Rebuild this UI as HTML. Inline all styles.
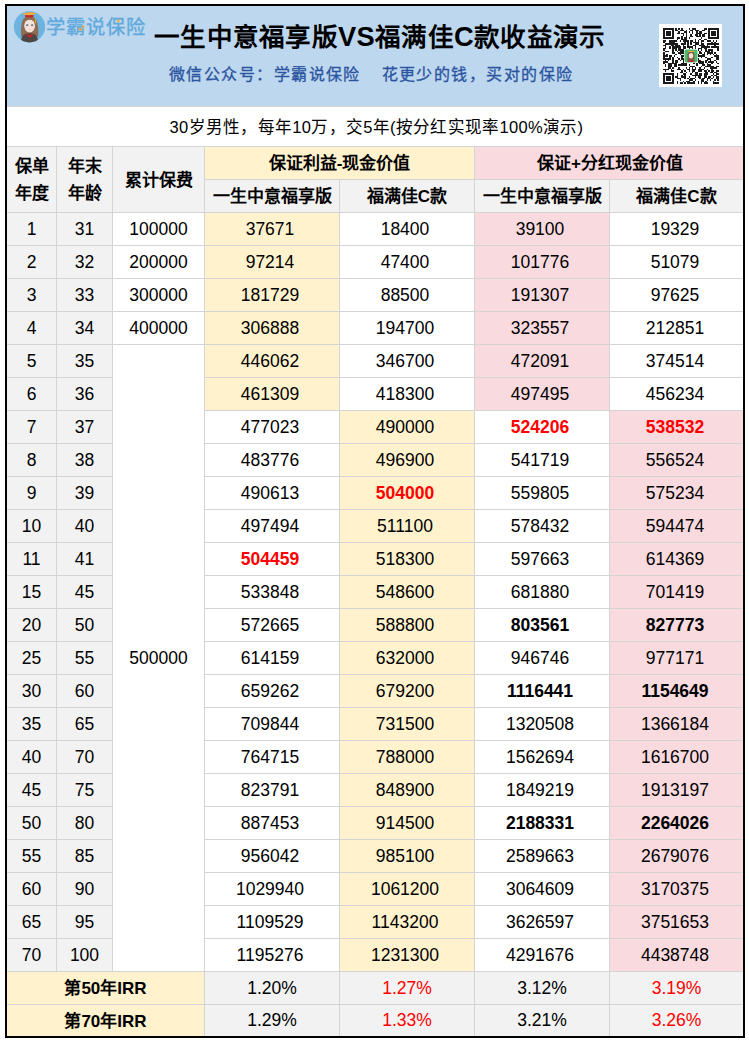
<!DOCTYPE html>
<html lang="zh-CN"><head><meta charset="utf-8"><style>
html,body{margin:0;padding:0}
body{width:749px;height:1047px;position:relative;overflow:hidden;background:#fff;font-family:"Liberation Sans",sans-serif;color:#000}
.c{position:absolute;box-sizing:border-box;display:flex;align-items:center;justify-content:center;text-align:center;white-space:nowrap}
.frame{position:absolute;left:5px;top:4px;width:740px;height:1034px;box-sizing:border-box;border:2px solid #000}
.d{font-size:17.5px}
.hb{font-size:17px;font-weight:bold;padding-bottom:3px}
.two{line-height:26.5px;padding-bottom:0;padding-top:2px}
.sub{font-size:16.5px;letter-spacing:0.3px;padding-bottom:2px;padding-left:3px}
.title{letter-spacing:0.3px}
.red{color:#ff0000;font-weight:bold}
.redn{color:#ff0000}
.bold{font-weight:bold}
.title{position:absolute;left:154px;top:17px;font-size:25.5px;font-weight:bold;white-space:nowrap;line-height:40px}
.title b{font-size:27.3px}
.wx{position:absolute;top:62.5px;font-size:16px;color:#2b54a0;white-space:nowrap;letter-spacing:1.45px;line-height:24px;-webkit-text-stroke:0.3px #2b54a0}
.logo{position:absolute;left:46px;top:14px;font-size:19.3px;letter-spacing:0.9px;color:#5fa9dd;white-space:nowrap;line-height:28px;-webkit-text-stroke:0.35px #5fa9dd}
.qrbg{position:absolute;left:659px;top:24px;width:63px;height:63px;background:#fff}
</style></head><body>
<div style="position:absolute;left:7px;top:6px;width:736px;height:100px;background:#bdd7ee;border-bottom:1px solid #d4d4d4"></div>
<div class="c sub" style="left:7px;top:107px;width:736px;height:40px;background:#fff;border-bottom:1px solid #d4d4d4;">30岁男性，每年10万，交5年(按分红实现率100%演示)</div>
<div class="c hb two" style="left:7px;top:147px;width:50px;height:66px;background:#f2f2f2;border-right:1px solid #d4d4d4;border-bottom:1px solid #d4d4d4;">保单<br>年度</div>
<div class="c hb two" style="left:57px;top:147px;width:56px;height:66px;background:#f2f2f2;border-right:1px solid #d4d4d4;border-bottom:1px solid #d4d4d4;">年末<br>年龄</div>
<div class="c hb" style="left:113px;top:147px;width:92px;height:66px;background:#f2f2f2;border-right:1px solid #d4d4d4;border-bottom:1px solid #d4d4d4;">累计保费</div>
<div class="c hb" style="left:205px;top:147px;width:270px;height:33px;background:#fff2cc;border-right:1px solid #d4d4d4;border-bottom:1px solid #d4d4d4;">保证利益-现金价值</div>
<div class="c hb" style="left:475px;top:147px;width:268px;height:33px;background:#f9dade;border-bottom:1px solid #d4d4d4;padding-left:2px;">保证+分红现金价值</div>
<div class="c hb" style="left:205px;top:180px;width:135px;height:33px;background:#f2f2f2;border-right:1px solid #d4d4d4;border-bottom:1px solid #d4d4d4;">一生中意福享版</div>
<div class="c hb" style="left:340px;top:180px;width:135px;height:33px;background:#f2f2f2;border-right:1px solid #d4d4d4;border-bottom:1px solid #d4d4d4;">福满佳C款</div>
<div class="c hb" style="left:475px;top:180px;width:135px;height:33px;background:#f2f2f2;border-right:1px solid #d4d4d4;border-bottom:1px solid #d4d4d4;">一生中意福享版</div>
<div class="c hb" style="left:610px;top:180px;width:133px;height:33px;background:#f2f2f2;border-bottom:1px solid #d4d4d4;">福满佳C款</div>
<div class="c d" style="left:7px;top:213px;width:50px;height:33px;background:#f2f2f2;border-right:1px solid #d4d4d4;border-bottom:1px solid #d4d4d4;">1</div>
<div class="c d" style="left:57px;top:213px;width:56px;height:33px;background:#f2f2f2;border-right:1px solid #d4d4d4;border-bottom:1px solid #d4d4d4;">31</div>
<div class="c d" style="left:113px;top:213px;width:92px;height:33px;background:#fff;border-right:1px solid #d4d4d4;border-bottom:1px solid #d4d4d4;">100000</div>
<div class="c d" style="left:205px;top:213px;width:135px;height:33px;background:#fff2cc;border-right:1px solid #d4d4d4;border-bottom:1px solid #d4d4d4;padding-right:4px;">37671</div>
<div class="c d" style="left:340px;top:213px;width:135px;height:33px;background:#fff;border-right:1px solid #d4d4d4;border-bottom:1px solid #d4d4d4;padding-right:4px;">18400</div>
<div class="c d" style="left:475px;top:213px;width:135px;height:33px;background:#f9dade;border-right:1px solid #d4d4d4;border-bottom:1px solid #d4d4d4;padding-right:4px;">39100</div>
<div class="c d" style="left:610px;top:213px;width:133px;height:33px;background:#fff;border-bottom:1px solid #d4d4d4;padding-right:3px;">19329</div>
<div class="c d" style="left:7px;top:246px;width:50px;height:33px;background:#f2f2f2;border-right:1px solid #d4d4d4;border-bottom:1px solid #d4d4d4;">2</div>
<div class="c d" style="left:57px;top:246px;width:56px;height:33px;background:#f2f2f2;border-right:1px solid #d4d4d4;border-bottom:1px solid #d4d4d4;">32</div>
<div class="c d" style="left:113px;top:246px;width:92px;height:33px;background:#fff;border-right:1px solid #d4d4d4;border-bottom:1px solid #d4d4d4;">200000</div>
<div class="c d" style="left:205px;top:246px;width:135px;height:33px;background:#fff2cc;border-right:1px solid #d4d4d4;border-bottom:1px solid #d4d4d4;padding-right:4px;">97214</div>
<div class="c d" style="left:340px;top:246px;width:135px;height:33px;background:#fff;border-right:1px solid #d4d4d4;border-bottom:1px solid #d4d4d4;padding-right:4px;">47400</div>
<div class="c d" style="left:475px;top:246px;width:135px;height:33px;background:#f9dade;border-right:1px solid #d4d4d4;border-bottom:1px solid #d4d4d4;padding-right:4px;">101776</div>
<div class="c d" style="left:610px;top:246px;width:133px;height:33px;background:#fff;border-bottom:1px solid #d4d4d4;padding-right:3px;">51079</div>
<div class="c d" style="left:7px;top:279px;width:50px;height:33px;background:#f2f2f2;border-right:1px solid #d4d4d4;border-bottom:1px solid #d4d4d4;">3</div>
<div class="c d" style="left:57px;top:279px;width:56px;height:33px;background:#f2f2f2;border-right:1px solid #d4d4d4;border-bottom:1px solid #d4d4d4;">33</div>
<div class="c d" style="left:113px;top:279px;width:92px;height:33px;background:#fff;border-right:1px solid #d4d4d4;border-bottom:1px solid #d4d4d4;">300000</div>
<div class="c d" style="left:205px;top:279px;width:135px;height:33px;background:#fff2cc;border-right:1px solid #d4d4d4;border-bottom:1px solid #d4d4d4;padding-right:4px;">181729</div>
<div class="c d" style="left:340px;top:279px;width:135px;height:33px;background:#fff;border-right:1px solid #d4d4d4;border-bottom:1px solid #d4d4d4;padding-right:4px;">88500</div>
<div class="c d" style="left:475px;top:279px;width:135px;height:33px;background:#f9dade;border-right:1px solid #d4d4d4;border-bottom:1px solid #d4d4d4;padding-right:4px;">191307</div>
<div class="c d" style="left:610px;top:279px;width:133px;height:33px;background:#fff;border-bottom:1px solid #d4d4d4;padding-right:3px;">97625</div>
<div class="c d" style="left:7px;top:312px;width:50px;height:33px;background:#f2f2f2;border-right:1px solid #d4d4d4;border-bottom:1px solid #d4d4d4;">4</div>
<div class="c d" style="left:57px;top:312px;width:56px;height:33px;background:#f2f2f2;border-right:1px solid #d4d4d4;border-bottom:1px solid #d4d4d4;">34</div>
<div class="c d" style="left:113px;top:312px;width:92px;height:33px;background:#fff;border-right:1px solid #d4d4d4;border-bottom:1px solid #d4d4d4;">400000</div>
<div class="c d" style="left:205px;top:312px;width:135px;height:33px;background:#fff2cc;border-right:1px solid #d4d4d4;border-bottom:1px solid #d4d4d4;padding-right:4px;">306888</div>
<div class="c d" style="left:340px;top:312px;width:135px;height:33px;background:#fff;border-right:1px solid #d4d4d4;border-bottom:1px solid #d4d4d4;padding-right:4px;">194700</div>
<div class="c d" style="left:475px;top:312px;width:135px;height:33px;background:#f9dade;border-right:1px solid #d4d4d4;border-bottom:1px solid #d4d4d4;padding-right:4px;">323557</div>
<div class="c d" style="left:610px;top:312px;width:133px;height:33px;background:#fff;border-bottom:1px solid #d4d4d4;padding-right:3px;">212851</div>
<div class="c d" style="left:7px;top:345px;width:50px;height:33px;background:#f2f2f2;border-right:1px solid #d4d4d4;border-bottom:1px solid #d4d4d4;">5</div>
<div class="c d" style="left:57px;top:345px;width:56px;height:33px;background:#f2f2f2;border-right:1px solid #d4d4d4;border-bottom:1px solid #d4d4d4;">35</div>
<div class="c d" style="left:113px;top:345px;width:92px;height:627px;background:#fff;border-right:1px solid #d4d4d4;border-bottom:1px solid #d4d4d4;">500000</div>
<div class="c d" style="left:205px;top:345px;width:135px;height:33px;background:#fff2cc;border-right:1px solid #d4d4d4;border-bottom:1px solid #d4d4d4;padding-right:4px;">446062</div>
<div class="c d" style="left:340px;top:345px;width:135px;height:33px;background:#fff;border-right:1px solid #d4d4d4;border-bottom:1px solid #d4d4d4;padding-right:4px;">346700</div>
<div class="c d" style="left:475px;top:345px;width:135px;height:33px;background:#f9dade;border-right:1px solid #d4d4d4;border-bottom:1px solid #d4d4d4;padding-right:4px;">472091</div>
<div class="c d" style="left:610px;top:345px;width:133px;height:33px;background:#fff;border-bottom:1px solid #d4d4d4;padding-right:3px;">374514</div>
<div class="c d" style="left:7px;top:378px;width:50px;height:33px;background:#f2f2f2;border-right:1px solid #d4d4d4;border-bottom:1px solid #d4d4d4;">6</div>
<div class="c d" style="left:57px;top:378px;width:56px;height:33px;background:#f2f2f2;border-right:1px solid #d4d4d4;border-bottom:1px solid #d4d4d4;">36</div>
<div class="c d" style="left:205px;top:378px;width:135px;height:33px;background:#fff2cc;border-right:1px solid #d4d4d4;border-bottom:1px solid #d4d4d4;padding-right:4px;">461309</div>
<div class="c d" style="left:340px;top:378px;width:135px;height:33px;background:#fff;border-right:1px solid #d4d4d4;border-bottom:1px solid #d4d4d4;padding-right:4px;">418300</div>
<div class="c d" style="left:475px;top:378px;width:135px;height:33px;background:#f9dade;border-right:1px solid #d4d4d4;border-bottom:1px solid #d4d4d4;padding-right:4px;">497495</div>
<div class="c d" style="left:610px;top:378px;width:133px;height:33px;background:#fff;border-bottom:1px solid #d4d4d4;padding-right:3px;">456234</div>
<div class="c d" style="left:7px;top:411px;width:50px;height:33px;background:#f2f2f2;border-right:1px solid #d4d4d4;border-bottom:1px solid #d4d4d4;">7</div>
<div class="c d" style="left:57px;top:411px;width:56px;height:33px;background:#f2f2f2;border-right:1px solid #d4d4d4;border-bottom:1px solid #d4d4d4;">37</div>
<div class="c d" style="left:205px;top:411px;width:135px;height:33px;background:#fff;border-right:1px solid #d4d4d4;border-bottom:1px solid #d4d4d4;padding-right:4px;">477023</div>
<div class="c d" style="left:340px;top:411px;width:135px;height:33px;background:#fff2cc;border-right:1px solid #d4d4d4;border-bottom:1px solid #d4d4d4;padding-right:4px;">490000</div>
<div class="c d red" style="left:475px;top:411px;width:135px;height:33px;background:#fff;border-right:1px solid #d4d4d4;border-bottom:1px solid #d4d4d4;padding-right:4px;">524206</div>
<div class="c d red" style="left:610px;top:411px;width:133px;height:33px;background:#f9dade;border-bottom:1px solid #d4d4d4;padding-right:3px;">538532</div>
<div class="c d" style="left:7px;top:444px;width:50px;height:33px;background:#f2f2f2;border-right:1px solid #d4d4d4;border-bottom:1px solid #d4d4d4;">8</div>
<div class="c d" style="left:57px;top:444px;width:56px;height:33px;background:#f2f2f2;border-right:1px solid #d4d4d4;border-bottom:1px solid #d4d4d4;">38</div>
<div class="c d" style="left:205px;top:444px;width:135px;height:33px;background:#fff;border-right:1px solid #d4d4d4;border-bottom:1px solid #d4d4d4;padding-right:4px;">483776</div>
<div class="c d" style="left:340px;top:444px;width:135px;height:33px;background:#fff2cc;border-right:1px solid #d4d4d4;border-bottom:1px solid #d4d4d4;padding-right:4px;">496900</div>
<div class="c d" style="left:475px;top:444px;width:135px;height:33px;background:#fff;border-right:1px solid #d4d4d4;border-bottom:1px solid #d4d4d4;padding-right:4px;">541719</div>
<div class="c d" style="left:610px;top:444px;width:133px;height:33px;background:#f9dade;border-bottom:1px solid #d4d4d4;padding-right:3px;">556524</div>
<div class="c d" style="left:7px;top:477px;width:50px;height:33px;background:#f2f2f2;border-right:1px solid #d4d4d4;border-bottom:1px solid #d4d4d4;">9</div>
<div class="c d" style="left:57px;top:477px;width:56px;height:33px;background:#f2f2f2;border-right:1px solid #d4d4d4;border-bottom:1px solid #d4d4d4;">39</div>
<div class="c d" style="left:205px;top:477px;width:135px;height:33px;background:#fff;border-right:1px solid #d4d4d4;border-bottom:1px solid #d4d4d4;padding-right:4px;">490613</div>
<div class="c d red" style="left:340px;top:477px;width:135px;height:33px;background:#fff2cc;border-right:1px solid #d4d4d4;border-bottom:1px solid #d4d4d4;padding-right:4px;">504000</div>
<div class="c d" style="left:475px;top:477px;width:135px;height:33px;background:#fff;border-right:1px solid #d4d4d4;border-bottom:1px solid #d4d4d4;padding-right:4px;">559805</div>
<div class="c d" style="left:610px;top:477px;width:133px;height:33px;background:#f9dade;border-bottom:1px solid #d4d4d4;padding-right:3px;">575234</div>
<div class="c d" style="left:7px;top:510px;width:50px;height:33px;background:#f2f2f2;border-right:1px solid #d4d4d4;border-bottom:1px solid #d4d4d4;">10</div>
<div class="c d" style="left:57px;top:510px;width:56px;height:33px;background:#f2f2f2;border-right:1px solid #d4d4d4;border-bottom:1px solid #d4d4d4;">40</div>
<div class="c d" style="left:205px;top:510px;width:135px;height:33px;background:#fff;border-right:1px solid #d4d4d4;border-bottom:1px solid #d4d4d4;padding-right:4px;">497494</div>
<div class="c d" style="left:340px;top:510px;width:135px;height:33px;background:#fff2cc;border-right:1px solid #d4d4d4;border-bottom:1px solid #d4d4d4;padding-right:4px;">511100</div>
<div class="c d" style="left:475px;top:510px;width:135px;height:33px;background:#fff;border-right:1px solid #d4d4d4;border-bottom:1px solid #d4d4d4;padding-right:4px;">578432</div>
<div class="c d" style="left:610px;top:510px;width:133px;height:33px;background:#f9dade;border-bottom:1px solid #d4d4d4;padding-right:3px;">594474</div>
<div class="c d" style="left:7px;top:543px;width:50px;height:33px;background:#f2f2f2;border-right:1px solid #d4d4d4;border-bottom:1px solid #d4d4d4;">11</div>
<div class="c d" style="left:57px;top:543px;width:56px;height:33px;background:#f2f2f2;border-right:1px solid #d4d4d4;border-bottom:1px solid #d4d4d4;">41</div>
<div class="c d red" style="left:205px;top:543px;width:135px;height:33px;background:#fff;border-right:1px solid #d4d4d4;border-bottom:1px solid #d4d4d4;padding-right:4px;">504459</div>
<div class="c d" style="left:340px;top:543px;width:135px;height:33px;background:#fff2cc;border-right:1px solid #d4d4d4;border-bottom:1px solid #d4d4d4;padding-right:4px;">518300</div>
<div class="c d" style="left:475px;top:543px;width:135px;height:33px;background:#fff;border-right:1px solid #d4d4d4;border-bottom:1px solid #d4d4d4;padding-right:4px;">597663</div>
<div class="c d" style="left:610px;top:543px;width:133px;height:33px;background:#f9dade;border-bottom:1px solid #d4d4d4;padding-right:3px;">614369</div>
<div class="c d" style="left:7px;top:576px;width:50px;height:33px;background:#f2f2f2;border-right:1px solid #d4d4d4;border-bottom:1px solid #d4d4d4;">15</div>
<div class="c d" style="left:57px;top:576px;width:56px;height:33px;background:#f2f2f2;border-right:1px solid #d4d4d4;border-bottom:1px solid #d4d4d4;">45</div>
<div class="c d" style="left:205px;top:576px;width:135px;height:33px;background:#fff;border-right:1px solid #d4d4d4;border-bottom:1px solid #d4d4d4;padding-right:4px;">533848</div>
<div class="c d" style="left:340px;top:576px;width:135px;height:33px;background:#fff2cc;border-right:1px solid #d4d4d4;border-bottom:1px solid #d4d4d4;padding-right:4px;">548600</div>
<div class="c d" style="left:475px;top:576px;width:135px;height:33px;background:#fff;border-right:1px solid #d4d4d4;border-bottom:1px solid #d4d4d4;padding-right:4px;">681880</div>
<div class="c d" style="left:610px;top:576px;width:133px;height:33px;background:#f9dade;border-bottom:1px solid #d4d4d4;padding-right:3px;">701419</div>
<div class="c d" style="left:7px;top:609px;width:50px;height:33px;background:#f2f2f2;border-right:1px solid #d4d4d4;border-bottom:1px solid #d4d4d4;">20</div>
<div class="c d" style="left:57px;top:609px;width:56px;height:33px;background:#f2f2f2;border-right:1px solid #d4d4d4;border-bottom:1px solid #d4d4d4;">50</div>
<div class="c d" style="left:205px;top:609px;width:135px;height:33px;background:#fff;border-right:1px solid #d4d4d4;border-bottom:1px solid #d4d4d4;padding-right:4px;">572665</div>
<div class="c d" style="left:340px;top:609px;width:135px;height:33px;background:#fff2cc;border-right:1px solid #d4d4d4;border-bottom:1px solid #d4d4d4;padding-right:4px;">588800</div>
<div class="c d bold" style="left:475px;top:609px;width:135px;height:33px;background:#fff;border-right:1px solid #d4d4d4;border-bottom:1px solid #d4d4d4;padding-right:4px;">803561</div>
<div class="c d bold" style="left:610px;top:609px;width:133px;height:33px;background:#f9dade;border-bottom:1px solid #d4d4d4;padding-right:3px;">827773</div>
<div class="c d" style="left:7px;top:642px;width:50px;height:33px;background:#f2f2f2;border-right:1px solid #d4d4d4;border-bottom:1px solid #d4d4d4;">25</div>
<div class="c d" style="left:57px;top:642px;width:56px;height:33px;background:#f2f2f2;border-right:1px solid #d4d4d4;border-bottom:1px solid #d4d4d4;">55</div>
<div class="c d" style="left:205px;top:642px;width:135px;height:33px;background:#fff;border-right:1px solid #d4d4d4;border-bottom:1px solid #d4d4d4;padding-right:4px;">614159</div>
<div class="c d" style="left:340px;top:642px;width:135px;height:33px;background:#fff2cc;border-right:1px solid #d4d4d4;border-bottom:1px solid #d4d4d4;padding-right:4px;">632000</div>
<div class="c d" style="left:475px;top:642px;width:135px;height:33px;background:#fff;border-right:1px solid #d4d4d4;border-bottom:1px solid #d4d4d4;padding-right:4px;">946746</div>
<div class="c d" style="left:610px;top:642px;width:133px;height:33px;background:#f9dade;border-bottom:1px solid #d4d4d4;padding-right:3px;">977171</div>
<div class="c d" style="left:7px;top:675px;width:50px;height:33px;background:#f2f2f2;border-right:1px solid #d4d4d4;border-bottom:1px solid #d4d4d4;">30</div>
<div class="c d" style="left:57px;top:675px;width:56px;height:33px;background:#f2f2f2;border-right:1px solid #d4d4d4;border-bottom:1px solid #d4d4d4;">60</div>
<div class="c d" style="left:205px;top:675px;width:135px;height:33px;background:#fff;border-right:1px solid #d4d4d4;border-bottom:1px solid #d4d4d4;padding-right:4px;">659262</div>
<div class="c d" style="left:340px;top:675px;width:135px;height:33px;background:#fff2cc;border-right:1px solid #d4d4d4;border-bottom:1px solid #d4d4d4;padding-right:4px;">679200</div>
<div class="c d bold" style="left:475px;top:675px;width:135px;height:33px;background:#fff;border-right:1px solid #d4d4d4;border-bottom:1px solid #d4d4d4;padding-right:4px;">1116441</div>
<div class="c d bold" style="left:610px;top:675px;width:133px;height:33px;background:#f9dade;border-bottom:1px solid #d4d4d4;padding-right:3px;">1154649</div>
<div class="c d" style="left:7px;top:708px;width:50px;height:33px;background:#f2f2f2;border-right:1px solid #d4d4d4;border-bottom:1px solid #d4d4d4;">35</div>
<div class="c d" style="left:57px;top:708px;width:56px;height:33px;background:#f2f2f2;border-right:1px solid #d4d4d4;border-bottom:1px solid #d4d4d4;">65</div>
<div class="c d" style="left:205px;top:708px;width:135px;height:33px;background:#fff;border-right:1px solid #d4d4d4;border-bottom:1px solid #d4d4d4;padding-right:4px;">709844</div>
<div class="c d" style="left:340px;top:708px;width:135px;height:33px;background:#fff2cc;border-right:1px solid #d4d4d4;border-bottom:1px solid #d4d4d4;padding-right:4px;">731500</div>
<div class="c d" style="left:475px;top:708px;width:135px;height:33px;background:#fff;border-right:1px solid #d4d4d4;border-bottom:1px solid #d4d4d4;padding-right:4px;">1320508</div>
<div class="c d" style="left:610px;top:708px;width:133px;height:33px;background:#f9dade;border-bottom:1px solid #d4d4d4;padding-right:3px;">1366184</div>
<div class="c d" style="left:7px;top:741px;width:50px;height:33px;background:#f2f2f2;border-right:1px solid #d4d4d4;border-bottom:1px solid #d4d4d4;">40</div>
<div class="c d" style="left:57px;top:741px;width:56px;height:33px;background:#f2f2f2;border-right:1px solid #d4d4d4;border-bottom:1px solid #d4d4d4;">70</div>
<div class="c d" style="left:205px;top:741px;width:135px;height:33px;background:#fff;border-right:1px solid #d4d4d4;border-bottom:1px solid #d4d4d4;padding-right:4px;">764715</div>
<div class="c d" style="left:340px;top:741px;width:135px;height:33px;background:#fff2cc;border-right:1px solid #d4d4d4;border-bottom:1px solid #d4d4d4;padding-right:4px;">788000</div>
<div class="c d" style="left:475px;top:741px;width:135px;height:33px;background:#fff;border-right:1px solid #d4d4d4;border-bottom:1px solid #d4d4d4;padding-right:4px;">1562694</div>
<div class="c d" style="left:610px;top:741px;width:133px;height:33px;background:#f9dade;border-bottom:1px solid #d4d4d4;padding-right:3px;">1616700</div>
<div class="c d" style="left:7px;top:774px;width:50px;height:33px;background:#f2f2f2;border-right:1px solid #d4d4d4;border-bottom:1px solid #d4d4d4;">45</div>
<div class="c d" style="left:57px;top:774px;width:56px;height:33px;background:#f2f2f2;border-right:1px solid #d4d4d4;border-bottom:1px solid #d4d4d4;">75</div>
<div class="c d" style="left:205px;top:774px;width:135px;height:33px;background:#fff;border-right:1px solid #d4d4d4;border-bottom:1px solid #d4d4d4;padding-right:4px;">823791</div>
<div class="c d" style="left:340px;top:774px;width:135px;height:33px;background:#fff2cc;border-right:1px solid #d4d4d4;border-bottom:1px solid #d4d4d4;padding-right:4px;">848900</div>
<div class="c d" style="left:475px;top:774px;width:135px;height:33px;background:#fff;border-right:1px solid #d4d4d4;border-bottom:1px solid #d4d4d4;padding-right:4px;">1849219</div>
<div class="c d" style="left:610px;top:774px;width:133px;height:33px;background:#f9dade;border-bottom:1px solid #d4d4d4;padding-right:3px;">1913197</div>
<div class="c d" style="left:7px;top:807px;width:50px;height:33px;background:#f2f2f2;border-right:1px solid #d4d4d4;border-bottom:1px solid #d4d4d4;">50</div>
<div class="c d" style="left:57px;top:807px;width:56px;height:33px;background:#f2f2f2;border-right:1px solid #d4d4d4;border-bottom:1px solid #d4d4d4;">80</div>
<div class="c d" style="left:205px;top:807px;width:135px;height:33px;background:#fff;border-right:1px solid #d4d4d4;border-bottom:1px solid #d4d4d4;padding-right:4px;">887453</div>
<div class="c d" style="left:340px;top:807px;width:135px;height:33px;background:#fff2cc;border-right:1px solid #d4d4d4;border-bottom:1px solid #d4d4d4;padding-right:4px;">914500</div>
<div class="c d bold" style="left:475px;top:807px;width:135px;height:33px;background:#fff;border-right:1px solid #d4d4d4;border-bottom:1px solid #d4d4d4;padding-right:4px;">2188331</div>
<div class="c d bold" style="left:610px;top:807px;width:133px;height:33px;background:#f9dade;border-bottom:1px solid #d4d4d4;padding-right:3px;">2264026</div>
<div class="c d" style="left:7px;top:840px;width:50px;height:33px;background:#f2f2f2;border-right:1px solid #d4d4d4;border-bottom:1px solid #d4d4d4;">55</div>
<div class="c d" style="left:57px;top:840px;width:56px;height:33px;background:#f2f2f2;border-right:1px solid #d4d4d4;border-bottom:1px solid #d4d4d4;">85</div>
<div class="c d" style="left:205px;top:840px;width:135px;height:33px;background:#fff;border-right:1px solid #d4d4d4;border-bottom:1px solid #d4d4d4;padding-right:4px;">956042</div>
<div class="c d" style="left:340px;top:840px;width:135px;height:33px;background:#fff2cc;border-right:1px solid #d4d4d4;border-bottom:1px solid #d4d4d4;padding-right:4px;">985100</div>
<div class="c d" style="left:475px;top:840px;width:135px;height:33px;background:#fff;border-right:1px solid #d4d4d4;border-bottom:1px solid #d4d4d4;padding-right:4px;">2589663</div>
<div class="c d" style="left:610px;top:840px;width:133px;height:33px;background:#f9dade;border-bottom:1px solid #d4d4d4;padding-right:3px;">2679076</div>
<div class="c d" style="left:7px;top:873px;width:50px;height:33px;background:#f2f2f2;border-right:1px solid #d4d4d4;border-bottom:1px solid #d4d4d4;">60</div>
<div class="c d" style="left:57px;top:873px;width:56px;height:33px;background:#f2f2f2;border-right:1px solid #d4d4d4;border-bottom:1px solid #d4d4d4;">90</div>
<div class="c d" style="left:205px;top:873px;width:135px;height:33px;background:#fff;border-right:1px solid #d4d4d4;border-bottom:1px solid #d4d4d4;padding-right:4px;">1029940</div>
<div class="c d" style="left:340px;top:873px;width:135px;height:33px;background:#fff2cc;border-right:1px solid #d4d4d4;border-bottom:1px solid #d4d4d4;padding-right:4px;">1061200</div>
<div class="c d" style="left:475px;top:873px;width:135px;height:33px;background:#fff;border-right:1px solid #d4d4d4;border-bottom:1px solid #d4d4d4;padding-right:4px;">3064609</div>
<div class="c d" style="left:610px;top:873px;width:133px;height:33px;background:#f9dade;border-bottom:1px solid #d4d4d4;padding-right:3px;">3170375</div>
<div class="c d" style="left:7px;top:906px;width:50px;height:33px;background:#f2f2f2;border-right:1px solid #d4d4d4;border-bottom:1px solid #d4d4d4;">65</div>
<div class="c d" style="left:57px;top:906px;width:56px;height:33px;background:#f2f2f2;border-right:1px solid #d4d4d4;border-bottom:1px solid #d4d4d4;">95</div>
<div class="c d" style="left:205px;top:906px;width:135px;height:33px;background:#fff;border-right:1px solid #d4d4d4;border-bottom:1px solid #d4d4d4;padding-right:4px;">1109529</div>
<div class="c d" style="left:340px;top:906px;width:135px;height:33px;background:#fff2cc;border-right:1px solid #d4d4d4;border-bottom:1px solid #d4d4d4;padding-right:4px;">1143200</div>
<div class="c d" style="left:475px;top:906px;width:135px;height:33px;background:#fff;border-right:1px solid #d4d4d4;border-bottom:1px solid #d4d4d4;padding-right:4px;">3626597</div>
<div class="c d" style="left:610px;top:906px;width:133px;height:33px;background:#f9dade;border-bottom:1px solid #d4d4d4;padding-right:3px;">3751653</div>
<div class="c d" style="left:7px;top:939px;width:50px;height:33px;background:#f2f2f2;border-right:1px solid #d4d4d4;border-bottom:1px solid #d4d4d4;">70</div>
<div class="c d" style="left:57px;top:939px;width:56px;height:33px;background:#f2f2f2;border-right:1px solid #d4d4d4;border-bottom:1px solid #d4d4d4;">100</div>
<div class="c d" style="left:205px;top:939px;width:135px;height:33px;background:#fff;border-right:1px solid #d4d4d4;border-bottom:1px solid #d4d4d4;padding-right:4px;">1195276</div>
<div class="c d" style="left:340px;top:939px;width:135px;height:33px;background:#fff2cc;border-right:1px solid #d4d4d4;border-bottom:1px solid #d4d4d4;padding-right:4px;">1231300</div>
<div class="c d" style="left:475px;top:939px;width:135px;height:33px;background:#fff;border-right:1px solid #d4d4d4;border-bottom:1px solid #d4d4d4;padding-right:4px;">4291676</div>
<div class="c d" style="left:610px;top:939px;width:133px;height:33px;background:#f9dade;border-bottom:1px solid #d4d4d4;padding-right:3px;">4438748</div>
<div class="c hb" style="left:7px;top:972px;width:198px;height:33px;background:#fff2cc;border-right:1px solid #d4d4d4;border-bottom:1px solid #d4d4d4;">第50年IRR</div>
<div class="c d" style="left:205px;top:972px;width:135px;height:33px;background:#f2f2f2;border-right:1px solid #d4d4d4;border-bottom:1px solid #d4d4d4;">1.20%</div>
<div class="c d redn" style="left:340px;top:972px;width:135px;height:33px;background:#f2f2f2;border-right:1px solid #d4d4d4;border-bottom:1px solid #d4d4d4;">1.27%</div>
<div class="c d" style="left:475px;top:972px;width:135px;height:33px;background:#f2f2f2;border-right:1px solid #d4d4d4;border-bottom:1px solid #d4d4d4;">3.12%</div>
<div class="c d redn" style="left:610px;top:972px;width:133px;height:33px;background:#f2f2f2;border-bottom:1px solid #d4d4d4;">3.19%</div>
<div class="c hb" style="left:7px;top:1005px;width:198px;height:31px;background:#fff2cc;border-right:1px solid #d4d4d4;">第70年IRR</div>
<div class="c d" style="left:205px;top:1005px;width:135px;height:31px;background:#f2f2f2;border-right:1px solid #d4d4d4;">1.29%</div>
<div class="c d redn" style="left:340px;top:1005px;width:135px;height:31px;background:#f2f2f2;border-right:1px solid #d4d4d4;">1.33%</div>
<div class="c d" style="left:475px;top:1005px;width:135px;height:31px;background:#f2f2f2;border-right:1px solid #d4d4d4;">3.21%</div>
<div class="c d redn" style="left:610px;top:1005px;width:133px;height:31px;background:#f2f2f2;">3.26%</div>
<div class="title">一生中意福享版<b>VS</b>福满佳<b>C</b>款收益演示</div>
<div class="wx" style="left:169px">微信公众号：学霸说保险</div><div class="wx" style="left:381.5px">花更少的钱，买对的保险</div>
<div class="logo">学霸说保险</div><svg style="position:absolute;left:0;top:0" width="160" height="45"><path d="M78.5 28.5 L80.5 30.3 L84.2 25.4" stroke="#f0ac3a" stroke-width="1.3" fill="none"/><path d="M116.8 20 L118.2 21.8 L120 19.4" stroke="#f0ac3a" stroke-width="1.1" fill="none"/></svg>
<svg style="position:absolute;left:0;top:0" width="60" height="50" viewBox="0 0 60 50">
<defs><clipPath id="cc"><circle cx="29.5" cy="26.8" r="15.6"/></clipPath></defs>
<circle cx="29.5" cy="26.8" r="15.6" fill="#6cb3e0"/>
<g clip-path="url(#cc)">
<path d="M21.2 36 Q20.5 28 22 22 Q23.5 16.5 29.5 16.3 Q35.5 16.5 37.2 22 Q38.8 28 38.2 36 Q37 38 35 37.5 L24 37.5 Q22 38 21.2 36 Z" fill="#8d6e55"/>
<path d="M21 43 Q21 35.5 25 34 L29.5 33 L34 34 Q38 35.5 38 43 Z" fill="#4d4745"/>
<path d="M25 33.8 L29.5 38.5 L34 33.8 L29.5 34.8 Z" fill="#b62a2c"/>
<ellipse cx="29.6" cy="25.8" rx="5.4" ry="6.6" fill="#f5e3d9"/>
<path d="M24 22 Q27 18.5 29.6 18.6 Q33 18.6 35.4 22.5 Q34 20 29.6 19.8 Q26 20 24 22 Z" fill="#8d6e55"/>
<ellipse cx="27.2" cy="25.1" rx="1.15" ry="0.9" fill="#56627a"/><ellipse cx="32.1" cy="25.1" rx="1.15" ry="0.9" fill="#56627a"/><ellipse cx="25.8" cy="27.4" rx="1" ry="0.7" fill="#f3d3cf"/><ellipse cx="33.5" cy="27.4" rx="1" ry="0.7" fill="#f3d3cf"/>
<path d="M28.9 29.4 Q29.6 29.9 30.3 29.4" stroke="#e3a0a0" stroke-width="0.6" fill="none"/>
<rect x="25.2" y="15" width="8.2" height="2.4" fill="#c0282a"/>
<path d="M22 13.8 Q29.5 10.8 36.4 13.4 L34 14.6 Q29.5 15.6 24.5 14.8 Z" fill="#f4ab38"/>
<path d="M35.3 18.8 L35.5 23.3" stroke="#f4ab38" stroke-width="1"/>
</g>
</svg>
<div class="qrbg"></div>
<svg style="position:absolute;left:663px;top:28px" width="55.5" height="55.5" viewBox="0 0 37 37" shape-rendering="crispEdges"><g fill="#1a1a1a"><rect x="0" y="0" width="1" height="1"/><rect x="0" y="1" width="1" height="1"/><rect x="0" y="2" width="1" height="1"/><rect x="0" y="3" width="1" height="1"/><rect x="0" y="4" width="1" height="1"/><rect x="0" y="5" width="1" height="1"/><rect x="0" y="6" width="1" height="1"/><rect x="0" y="8" width="1" height="1"/><rect x="0" y="9" width="1" height="1"/><rect x="0" y="11" width="1" height="1"/><rect x="0" y="13" width="1" height="1"/><rect x="0" y="14" width="1" height="1"/><rect x="0" y="16" width="1" height="1"/><rect x="0" y="17" width="1" height="1"/><rect x="0" y="18" width="1" height="1"/><rect x="0" y="19" width="1" height="1"/><rect x="0" y="20" width="1" height="1"/><rect x="0" y="22" width="1" height="1"/><rect x="0" y="23" width="1" height="1"/><rect x="0" y="27" width="1" height="1"/><rect x="0" y="30" width="1" height="1"/><rect x="0" y="31" width="1" height="1"/><rect x="0" y="32" width="1" height="1"/><rect x="0" y="33" width="1" height="1"/><rect x="0" y="34" width="1" height="1"/><rect x="0" y="35" width="1" height="1"/><rect x="0" y="36" width="1" height="1"/><rect x="1" y="0" width="1" height="1"/><rect x="1" y="6" width="1" height="1"/><rect x="1" y="8" width="1" height="1"/><rect x="1" y="10" width="1" height="1"/><rect x="1" y="11" width="1" height="1"/><rect x="1" y="12" width="1" height="1"/><rect x="1" y="13" width="1" height="1"/><rect x="1" y="15" width="1" height="1"/><rect x="1" y="18" width="1" height="1"/><rect x="1" y="20" width="1" height="1"/><rect x="1" y="21" width="1" height="1"/><rect x="1" y="22" width="1" height="1"/><rect x="1" y="24" width="1" height="1"/><rect x="1" y="25" width="1" height="1"/><rect x="1" y="27" width="1" height="1"/><rect x="1" y="28" width="1" height="1"/><rect x="1" y="30" width="1" height="1"/><rect x="1" y="36" width="1" height="1"/><rect x="2" y="0" width="1" height="1"/><rect x="2" y="2" width="1" height="1"/><rect x="2" y="3" width="1" height="1"/><rect x="2" y="4" width="1" height="1"/><rect x="2" y="6" width="1" height="1"/><rect x="2" y="10" width="1" height="1"/><rect x="2" y="15" width="1" height="1"/><rect x="2" y="17" width="1" height="1"/><rect x="2" y="18" width="1" height="1"/><rect x="2" y="20" width="1" height="1"/><rect x="2" y="22" width="1" height="1"/><rect x="2" y="27" width="1" height="1"/><rect x="2" y="30" width="1" height="1"/><rect x="2" y="32" width="1" height="1"/><rect x="2" y="33" width="1" height="1"/><rect x="2" y="34" width="1" height="1"/><rect x="2" y="36" width="1" height="1"/><rect x="3" y="0" width="1" height="1"/><rect x="3" y="2" width="1" height="1"/><rect x="3" y="3" width="1" height="1"/><rect x="3" y="4" width="1" height="1"/><rect x="3" y="6" width="1" height="1"/><rect x="3" y="10" width="1" height="1"/><rect x="3" y="15" width="1" height="1"/><rect x="3" y="20" width="1" height="1"/><rect x="3" y="21" width="1" height="1"/><rect x="3" y="23" width="1" height="1"/><rect x="3" y="24" width="1" height="1"/><rect x="3" y="25" width="1" height="1"/><rect x="3" y="26" width="1" height="1"/><rect x="3" y="27" width="1" height="1"/><rect x="3" y="30" width="1" height="1"/><rect x="3" y="32" width="1" height="1"/><rect x="3" y="33" width="1" height="1"/><rect x="3" y="34" width="1" height="1"/><rect x="3" y="36" width="1" height="1"/><rect x="4" y="0" width="1" height="1"/><rect x="4" y="2" width="1" height="1"/><rect x="4" y="3" width="1" height="1"/><rect x="4" y="4" width="1" height="1"/><rect x="4" y="6" width="1" height="1"/><rect x="4" y="8" width="1" height="1"/><rect x="4" y="9" width="1" height="1"/><rect x="4" y="10" width="1" height="1"/><rect x="4" y="12" width="1" height="1"/><rect x="4" y="13" width="1" height="1"/><rect x="4" y="18" width="1" height="1"/><rect x="4" y="19" width="1" height="1"/><rect x="4" y="20" width="1" height="1"/><rect x="4" y="23" width="1" height="1"/><rect x="4" y="24" width="1" height="1"/><rect x="4" y="25" width="1" height="1"/><rect x="4" y="26" width="1" height="1"/><rect x="4" y="30" width="1" height="1"/><rect x="4" y="32" width="1" height="1"/><rect x="4" y="33" width="1" height="1"/><rect x="4" y="34" width="1" height="1"/><rect x="4" y="36" width="1" height="1"/><rect x="5" y="0" width="1" height="1"/><rect x="5" y="6" width="1" height="1"/><rect x="5" y="8" width="1" height="1"/><rect x="5" y="9" width="1" height="1"/><rect x="5" y="10" width="1" height="1"/><rect x="5" y="11" width="1" height="1"/><rect x="5" y="18" width="1" height="1"/><rect x="5" y="23" width="1" height="1"/><rect x="5" y="24" width="1" height="1"/><rect x="5" y="25" width="1" height="1"/><rect x="5" y="27" width="1" height="1"/><rect x="5" y="28" width="1" height="1"/><rect x="5" y="30" width="1" height="1"/><rect x="5" y="36" width="1" height="1"/><rect x="6" y="0" width="1" height="1"/><rect x="6" y="1" width="1" height="1"/><rect x="6" y="2" width="1" height="1"/><rect x="6" y="3" width="1" height="1"/><rect x="6" y="4" width="1" height="1"/><rect x="6" y="5" width="1" height="1"/><rect x="6" y="6" width="1" height="1"/><rect x="6" y="8" width="1" height="1"/><rect x="6" y="9" width="1" height="1"/><rect x="6" y="10" width="1" height="1"/><rect x="6" y="11" width="1" height="1"/><rect x="6" y="12" width="1" height="1"/><rect x="6" y="13" width="1" height="1"/><rect x="6" y="14" width="1" height="1"/><rect x="6" y="15" width="1" height="1"/><rect x="6" y="16" width="1" height="1"/><rect x="6" y="19" width="1" height="1"/><rect x="6" y="20" width="1" height="1"/><rect x="6" y="21" width="1" height="1"/><rect x="6" y="22" width="1" height="1"/><rect x="6" y="23" width="1" height="1"/><rect x="6" y="26" width="1" height="1"/><rect x="6" y="28" width="1" height="1"/><rect x="6" y="30" width="1" height="1"/><rect x="6" y="31" width="1" height="1"/><rect x="6" y="32" width="1" height="1"/><rect x="6" y="33" width="1" height="1"/><rect x="6" y="34" width="1" height="1"/><rect x="6" y="35" width="1" height="1"/><rect x="6" y="36" width="1" height="1"/><rect x="7" y="8" width="1" height="1"/><rect x="7" y="9" width="1" height="1"/><rect x="7" y="10" width="1" height="1"/><rect x="7" y="12" width="1" height="1"/><rect x="7" y="13" width="1" height="1"/><rect x="7" y="16" width="1" height="1"/><rect x="7" y="18" width="1" height="1"/><rect x="7" y="23" width="1" height="1"/><rect x="7" y="24" width="1" height="1"/><rect x="7" y="25" width="1" height="1"/><rect x="8" y="0" width="1" height="1"/><rect x="8" y="1" width="1" height="1"/><rect x="8" y="8" width="1" height="1"/><rect x="8" y="10" width="1" height="1"/><rect x="8" y="11" width="1" height="1"/><rect x="8" y="12" width="1" height="1"/><rect x="8" y="13" width="1" height="1"/><rect x="8" y="14" width="1" height="1"/><rect x="8" y="17" width="1" height="1"/><rect x="8" y="21" width="1" height="1"/><rect x="8" y="22" width="1" height="1"/><rect x="8" y="23" width="1" height="1"/><rect x="8" y="24" width="1" height="1"/><rect x="8" y="25" width="1" height="1"/><rect x="8" y="32" width="1" height="1"/><rect x="9" y="1" width="1" height="1"/><rect x="9" y="3" width="1" height="1"/><rect x="9" y="6" width="1" height="1"/><rect x="9" y="7" width="1" height="1"/><rect x="9" y="10" width="1" height="1"/><rect x="9" y="11" width="1" height="1"/><rect x="9" y="12" width="1" height="1"/><rect x="9" y="15" width="1" height="1"/><rect x="9" y="19" width="1" height="1"/><rect x="9" y="21" width="1" height="1"/><rect x="9" y="22" width="1" height="1"/><rect x="9" y="27" width="1" height="1"/><rect x="9" y="30" width="1" height="1"/><rect x="9" y="31" width="1" height="1"/><rect x="9" y="32" width="1" height="1"/><rect x="9" y="33" width="1" height="1"/><rect x="9" y="35" width="1" height="1"/><rect x="9" y="36" width="1" height="1"/><rect x="10" y="0" width="1" height="1"/><rect x="10" y="2" width="1" height="1"/><rect x="10" y="3" width="1" height="1"/><rect x="10" y="6" width="1" height="1"/><rect x="10" y="11" width="1" height="1"/><rect x="10" y="12" width="1" height="1"/><rect x="10" y="13" width="1" height="1"/><rect x="10" y="14" width="1" height="1"/><rect x="10" y="16" width="1" height="1"/><rect x="10" y="20" width="1" height="1"/><rect x="10" y="24" width="1" height="1"/><rect x="10" y="26" width="1" height="1"/><rect x="10" y="27" width="1" height="1"/><rect x="10" y="33" width="1" height="1"/><rect x="11" y="1" width="1" height="1"/><rect x="11" y="8" width="1" height="1"/><rect x="11" y="12" width="1" height="1"/><rect x="11" y="13" width="1" height="1"/><rect x="11" y="14" width="1" height="1"/><rect x="11" y="15" width="1" height="1"/><rect x="11" y="16" width="1" height="1"/><rect x="11" y="17" width="1" height="1"/><rect x="11" y="21" width="1" height="1"/><rect x="11" y="24" width="1" height="1"/><rect x="11" y="27" width="1" height="1"/><rect x="11" y="29" width="1" height="1"/><rect x="11" y="33" width="1" height="1"/><rect x="11" y="34" width="1" height="1"/><rect x="11" y="36" width="1" height="1"/><rect x="12" y="0" width="1" height="1"/><rect x="12" y="1" width="1" height="1"/><rect x="12" y="3" width="1" height="1"/><rect x="12" y="5" width="1" height="1"/><rect x="12" y="6" width="1" height="1"/><rect x="12" y="7" width="1" height="1"/><rect x="12" y="10" width="1" height="1"/><rect x="12" y="14" width="1" height="1"/><rect x="12" y="15" width="1" height="1"/><rect x="12" y="16" width="1" height="1"/><rect x="12" y="18" width="1" height="1"/><rect x="12" y="19" width="1" height="1"/><rect x="12" y="20" width="1" height="1"/><rect x="12" y="23" width="1" height="1"/><rect x="12" y="24" width="1" height="1"/><rect x="12" y="28" width="1" height="1"/><rect x="12" y="29" width="1" height="1"/><rect x="12" y="31" width="1" height="1"/><rect x="12" y="32" width="1" height="1"/><rect x="12" y="36" width="1" height="1"/><rect x="13" y="1" width="1" height="1"/><rect x="13" y="3" width="1" height="1"/><rect x="13" y="4" width="1" height="1"/><rect x="13" y="7" width="1" height="1"/><rect x="13" y="8" width="1" height="1"/><rect x="13" y="10" width="1" height="1"/><rect x="13" y="11" width="1" height="1"/><rect x="13" y="12" width="1" height="1"/><rect x="13" y="13" width="1" height="1"/><rect x="13" y="14" width="1" height="1"/><rect x="13" y="15" width="1" height="1"/><rect x="13" y="16" width="1" height="1"/><rect x="13" y="18" width="1" height="1"/><rect x="13" y="20" width="1" height="1"/><rect x="13" y="21" width="1" height="1"/><rect x="13" y="22" width="1" height="1"/><rect x="13" y="23" width="1" height="1"/><rect x="13" y="24" width="1" height="1"/><rect x="13" y="27" width="1" height="1"/><rect x="13" y="30" width="1" height="1"/><rect x="13" y="32" width="1" height="1"/><rect x="13" y="35" width="1" height="1"/><rect x="14" y="2" width="1" height="1"/><rect x="14" y="6" width="1" height="1"/><rect x="14" y="7" width="1" height="1"/><rect x="14" y="8" width="1" height="1"/><rect x="14" y="9" width="1" height="1"/><rect x="14" y="10" width="1" height="1"/><rect x="14" y="12" width="1" height="1"/><rect x="14" y="13" width="1" height="1"/><rect x="14" y="14" width="1" height="1"/><rect x="14" y="18" width="1" height="1"/><rect x="14" y="19" width="1" height="1"/><rect x="14" y="20" width="1" height="1"/><rect x="14" y="21" width="1" height="1"/><rect x="14" y="22" width="1" height="1"/><rect x="14" y="23" width="1" height="1"/><rect x="14" y="24" width="1" height="1"/><rect x="14" y="28" width="1" height="1"/><rect x="14" y="30" width="1" height="1"/><rect x="14" y="31" width="1" height="1"/><rect x="14" y="32" width="1" height="1"/><rect x="14" y="33" width="1" height="1"/><rect x="14" y="36" width="1" height="1"/><rect x="15" y="1" width="1" height="1"/><rect x="15" y="2" width="1" height="1"/><rect x="15" y="3" width="1" height="1"/><rect x="15" y="4" width="1" height="1"/><rect x="15" y="5" width="1" height="1"/><rect x="15" y="6" width="1" height="1"/><rect x="15" y="7" width="1" height="1"/><rect x="15" y="8" width="1" height="1"/><rect x="15" y="23" width="1" height="1"/><rect x="15" y="24" width="1" height="1"/><rect x="15" y="26" width="1" height="1"/><rect x="15" y="29" width="1" height="1"/><rect x="15" y="35" width="1" height="1"/><rect x="16" y="8" width="1" height="1"/><rect x="16" y="9" width="1" height="1"/><rect x="16" y="10" width="1" height="1"/><rect x="16" y="11" width="1" height="1"/><rect x="16" y="12" width="1" height="1"/><rect x="16" y="27" width="1" height="1"/><rect x="16" y="33" width="1" height="1"/><rect x="16" y="35" width="1" height="1"/><rect x="16" y="36" width="1" height="1"/><rect x="17" y="0" width="1" height="1"/><rect x="17" y="2" width="1" height="1"/><rect x="17" y="6" width="1" height="1"/><rect x="17" y="12" width="1" height="1"/><rect x="17" y="13" width="1" height="1"/><rect x="17" y="14" width="1" height="1"/><rect x="17" y="24" width="1" height="1"/><rect x="17" y="26" width="1" height="1"/><rect x="17" y="27" width="1" height="1"/><rect x="17" y="28" width="1" height="1"/><rect x="17" y="32" width="1" height="1"/><rect x="17" y="34" width="1" height="1"/><rect x="17" y="35" width="1" height="1"/><rect x="17" y="36" width="1" height="1"/><rect x="18" y="1" width="1" height="1"/><rect x="18" y="4" width="1" height="1"/><rect x="18" y="5" width="1" height="1"/><rect x="18" y="8" width="1" height="1"/><rect x="18" y="9" width="1" height="1"/><rect x="18" y="10" width="1" height="1"/><rect x="18" y="12" width="1" height="1"/><rect x="18" y="14" width="1" height="1"/><rect x="18" y="25" width="1" height="1"/><rect x="18" y="30" width="1" height="1"/><rect x="18" y="33" width="1" height="1"/><rect x="18" y="34" width="1" height="1"/><rect x="18" y="36" width="1" height="1"/><rect x="19" y="0" width="1" height="1"/><rect x="19" y="1" width="1" height="1"/><rect x="19" y="2" width="1" height="1"/><rect x="19" y="3" width="1" height="1"/><rect x="19" y="5" width="1" height="1"/><rect x="19" y="8" width="1" height="1"/><rect x="19" y="12" width="1" height="1"/><rect x="19" y="13" width="1" height="1"/><rect x="19" y="14" width="1" height="1"/><rect x="19" y="25" width="1" height="1"/><rect x="19" y="26" width="1" height="1"/><rect x="19" y="27" width="1" height="1"/><rect x="19" y="28" width="1" height="1"/><rect x="19" y="29" width="1" height="1"/><rect x="19" y="31" width="1" height="1"/><rect x="19" y="33" width="1" height="1"/><rect x="19" y="34" width="1" height="1"/><rect x="19" y="36" width="1" height="1"/><rect x="20" y="0" width="1" height="1"/><rect x="20" y="9" width="1" height="1"/><rect x="20" y="11" width="1" height="1"/><rect x="20" y="14" width="1" height="1"/><rect x="20" y="23" width="1" height="1"/><rect x="20" y="25" width="1" height="1"/><rect x="20" y="27" width="1" height="1"/><rect x="20" y="28" width="1" height="1"/><rect x="20" y="31" width="1" height="1"/><rect x="20" y="33" width="1" height="1"/><rect x="20" y="35" width="1" height="1"/><rect x="20" y="36" width="1" height="1"/><rect x="21" y="0" width="1" height="1"/><rect x="21" y="1" width="1" height="1"/><rect x="21" y="4" width="1" height="1"/><rect x="21" y="7" width="1" height="1"/><rect x="21" y="8" width="1" height="1"/><rect x="21" y="9" width="1" height="1"/><rect x="21" y="10" width="1" height="1"/><rect x="21" y="11" width="1" height="1"/><rect x="21" y="12" width="1" height="1"/><rect x="21" y="13" width="1" height="1"/><rect x="21" y="14" width="1" height="1"/><rect x="21" y="26" width="1" height="1"/><rect x="21" y="27" width="1" height="1"/><rect x="21" y="29" width="1" height="1"/><rect x="21" y="30" width="1" height="1"/><rect x="21" y="31" width="1" height="1"/><rect x="21" y="32" width="1" height="1"/><rect x="21" y="34" width="1" height="1"/><rect x="22" y="1" width="1" height="1"/><rect x="22" y="2" width="1" height="1"/><rect x="22" y="3" width="1" height="1"/><rect x="22" y="4" width="1" height="1"/><rect x="22" y="5" width="1" height="1"/><rect x="22" y="9" width="1" height="1"/><rect x="22" y="10" width="1" height="1"/><rect x="22" y="23" width="1" height="1"/><rect x="22" y="24" width="1" height="1"/><rect x="22" y="29" width="1" height="1"/><rect x="22" y="30" width="1" height="1"/><rect x="22" y="31" width="1" height="1"/><rect x="23" y="1" width="1" height="1"/><rect x="23" y="3" width="1" height="1"/><rect x="23" y="5" width="1" height="1"/><rect x="23" y="8" width="1" height="1"/><rect x="23" y="9" width="1" height="1"/><rect x="23" y="10" width="1" height="1"/><rect x="23" y="13" width="1" height="1"/><rect x="23" y="14" width="1" height="1"/><rect x="23" y="17" width="1" height="1"/><rect x="23" y="18" width="1" height="1"/><rect x="23" y="20" width="1" height="1"/><rect x="23" y="21" width="1" height="1"/><rect x="23" y="22" width="1" height="1"/><rect x="23" y="27" width="1" height="1"/><rect x="23" y="28" width="1" height="1"/><rect x="23" y="31" width="1" height="1"/><rect x="23" y="32" width="1" height="1"/><rect x="23" y="35" width="1" height="1"/><rect x="23" y="36" width="1" height="1"/><rect x="24" y="2" width="1" height="1"/><rect x="24" y="3" width="1" height="1"/><rect x="24" y="4" width="1" height="1"/><rect x="24" y="5" width="1" height="1"/><rect x="24" y="7" width="1" height="1"/><rect x="24" y="11" width="1" height="1"/><rect x="24" y="13" width="1" height="1"/><rect x="24" y="15" width="1" height="1"/><rect x="24" y="16" width="1" height="1"/><rect x="24" y="18" width="1" height="1"/><rect x="24" y="21" width="1" height="1"/><rect x="24" y="22" width="1" height="1"/><rect x="24" y="23" width="1" height="1"/><rect x="24" y="26" width="1" height="1"/><rect x="24" y="27" width="1" height="1"/><rect x="24" y="28" width="1" height="1"/><rect x="24" y="30" width="1" height="1"/><rect x="24" y="31" width="1" height="1"/><rect x="24" y="32" width="1" height="1"/><rect x="24" y="33" width="1" height="1"/><rect x="25" y="2" width="1" height="1"/><rect x="25" y="3" width="1" height="1"/><rect x="25" y="6" width="1" height="1"/><rect x="25" y="8" width="1" height="1"/><rect x="25" y="9" width="1" height="1"/><rect x="25" y="10" width="1" height="1"/><rect x="25" y="11" width="1" height="1"/><rect x="25" y="12" width="1" height="1"/><rect x="25" y="13" width="1" height="1"/><rect x="25" y="14" width="1" height="1"/><rect x="25" y="16" width="1" height="1"/><rect x="25" y="18" width="1" height="1"/><rect x="25" y="19" width="1" height="1"/><rect x="25" y="22" width="1" height="1"/><rect x="25" y="23" width="1" height="1"/><rect x="25" y="25" width="1" height="1"/><rect x="25" y="27" width="1" height="1"/><rect x="25" y="28" width="1" height="1"/><rect x="25" y="30" width="1" height="1"/><rect x="25" y="31" width="1" height="1"/><rect x="25" y="34" width="1" height="1"/><rect x="25" y="35" width="1" height="1"/><rect x="25" y="36" width="1" height="1"/><rect x="26" y="1" width="1" height="1"/><rect x="26" y="4" width="1" height="1"/><rect x="26" y="5" width="1" height="1"/><rect x="26" y="8" width="1" height="1"/><rect x="26" y="10" width="1" height="1"/><rect x="26" y="11" width="1" height="1"/><rect x="26" y="12" width="1" height="1"/><rect x="26" y="17" width="1" height="1"/><rect x="26" y="18" width="1" height="1"/><rect x="26" y="22" width="1" height="1"/><rect x="26" y="23" width="1" height="1"/><rect x="26" y="24" width="1" height="1"/><rect x="26" y="27" width="1" height="1"/><rect x="26" y="33" width="1" height="1"/><rect x="26" y="34" width="1" height="1"/><rect x="26" y="35" width="1" height="1"/><rect x="27" y="0" width="1" height="1"/><rect x="27" y="1" width="1" height="1"/><rect x="27" y="3" width="1" height="1"/><rect x="27" y="4" width="1" height="1"/><rect x="27" y="5" width="1" height="1"/><rect x="27" y="7" width="1" height="1"/><rect x="27" y="11" width="1" height="1"/><rect x="27" y="12" width="1" height="1"/><rect x="27" y="13" width="1" height="1"/><rect x="27" y="16" width="1" height="1"/><rect x="27" y="17" width="1" height="1"/><rect x="27" y="18" width="1" height="1"/><rect x="27" y="24" width="1" height="1"/><rect x="27" y="26" width="1" height="1"/><rect x="27" y="28" width="1" height="1"/><rect x="27" y="30" width="1" height="1"/><rect x="27" y="31" width="1" height="1"/><rect x="27" y="32" width="1" height="1"/><rect x="27" y="33" width="1" height="1"/><rect x="27" y="36" width="1" height="1"/><rect x="28" y="0" width="1" height="1"/><rect x="28" y="3" width="1" height="1"/><rect x="28" y="7" width="1" height="1"/><rect x="28" y="12" width="1" height="1"/><rect x="28" y="13" width="1" height="1"/><rect x="28" y="14" width="1" height="1"/><rect x="28" y="15" width="1" height="1"/><rect x="28" y="19" width="1" height="1"/><rect x="28" y="21" width="1" height="1"/><rect x="28" y="22" width="1" height="1"/><rect x="28" y="25" width="1" height="1"/><rect x="28" y="28" width="1" height="1"/><rect x="28" y="29" width="1" height="1"/><rect x="28" y="30" width="1" height="1"/><rect x="28" y="31" width="1" height="1"/><rect x="28" y="32" width="1" height="1"/><rect x="28" y="35" width="1" height="1"/><rect x="28" y="36" width="1" height="1"/><rect x="29" y="8" width="1" height="1"/><rect x="29" y="10" width="1" height="1"/><rect x="29" y="11" width="1" height="1"/><rect x="29" y="12" width="1" height="1"/><rect x="29" y="15" width="1" height="1"/><rect x="29" y="16" width="1" height="1"/><rect x="29" y="17" width="1" height="1"/><rect x="29" y="20" width="1" height="1"/><rect x="29" y="21" width="1" height="1"/><rect x="29" y="23" width="1" height="1"/><rect x="29" y="24" width="1" height="1"/><rect x="29" y="25" width="1" height="1"/><rect x="29" y="27" width="1" height="1"/><rect x="29" y="29" width="1" height="1"/><rect x="29" y="30" width="1" height="1"/><rect x="29" y="33" width="1" height="1"/><rect x="29" y="34" width="1" height="1"/><rect x="29" y="36" width="1" height="1"/><rect x="30" y="0" width="1" height="1"/><rect x="30" y="1" width="1" height="1"/><rect x="30" y="2" width="1" height="1"/><rect x="30" y="3" width="1" height="1"/><rect x="30" y="4" width="1" height="1"/><rect x="30" y="5" width="1" height="1"/><rect x="30" y="6" width="1" height="1"/><rect x="30" y="8" width="1" height="1"/><rect x="30" y="10" width="1" height="1"/><rect x="30" y="12" width="1" height="1"/><rect x="30" y="14" width="1" height="1"/><rect x="30" y="15" width="1" height="1"/><rect x="30" y="16" width="1" height="1"/><rect x="30" y="20" width="1" height="1"/><rect x="30" y="22" width="1" height="1"/><rect x="30" y="24" width="1" height="1"/><rect x="30" y="25" width="1" height="1"/><rect x="30" y="28" width="1" height="1"/><rect x="30" y="32" width="1" height="1"/><rect x="30" y="33" width="1" height="1"/><rect x="31" y="0" width="1" height="1"/><rect x="31" y="6" width="1" height="1"/><rect x="31" y="8" width="1" height="1"/><rect x="31" y="10" width="1" height="1"/><rect x="31" y="14" width="1" height="1"/><rect x="31" y="16" width="1" height="1"/><rect x="31" y="17" width="1" height="1"/><rect x="31" y="20" width="1" height="1"/><rect x="31" y="21" width="1" height="1"/><rect x="31" y="22" width="1" height="1"/><rect x="31" y="24" width="1" height="1"/><rect x="31" y="25" width="1" height="1"/><rect x="31" y="26" width="1" height="1"/><rect x="31" y="29" width="1" height="1"/><rect x="31" y="32" width="1" height="1"/><rect x="31" y="34" width="1" height="1"/><rect x="32" y="0" width="1" height="1"/><rect x="32" y="2" width="1" height="1"/><rect x="32" y="3" width="1" height="1"/><rect x="32" y="4" width="1" height="1"/><rect x="32" y="6" width="1" height="1"/><rect x="32" y="9" width="1" height="1"/><rect x="32" y="10" width="1" height="1"/><rect x="32" y="12" width="1" height="1"/><rect x="32" y="14" width="1" height="1"/><rect x="32" y="15" width="1" height="1"/><rect x="32" y="16" width="1" height="1"/><rect x="32" y="19" width="1" height="1"/><rect x="32" y="22" width="1" height="1"/><rect x="32" y="23" width="1" height="1"/><rect x="32" y="25" width="1" height="1"/><rect x="32" y="26" width="1" height="1"/><rect x="32" y="27" width="1" height="1"/><rect x="32" y="28" width="1" height="1"/><rect x="32" y="29" width="1" height="1"/><rect x="32" y="31" width="1" height="1"/><rect x="32" y="33" width="1" height="1"/><rect x="33" y="0" width="1" height="1"/><rect x="33" y="2" width="1" height="1"/><rect x="33" y="3" width="1" height="1"/><rect x="33" y="4" width="1" height="1"/><rect x="33" y="6" width="1" height="1"/><rect x="33" y="8" width="1" height="1"/><rect x="33" y="10" width="1" height="1"/><rect x="33" y="12" width="1" height="1"/><rect x="33" y="17" width="1" height="1"/><rect x="33" y="22" width="1" height="1"/><rect x="33" y="25" width="1" height="1"/><rect x="33" y="26" width="1" height="1"/><rect x="33" y="28" width="1" height="1"/><rect x="33" y="30" width="1" height="1"/><rect x="33" y="32" width="1" height="1"/><rect x="33" y="35" width="1" height="1"/><rect x="33" y="36" width="1" height="1"/><rect x="34" y="0" width="1" height="1"/><rect x="34" y="2" width="1" height="1"/><rect x="34" y="3" width="1" height="1"/><rect x="34" y="4" width="1" height="1"/><rect x="34" y="6" width="1" height="1"/><rect x="34" y="9" width="1" height="1"/><rect x="34" y="10" width="1" height="1"/><rect x="34" y="11" width="1" height="1"/><rect x="34" y="12" width="1" height="1"/><rect x="34" y="16" width="1" height="1"/><rect x="34" y="18" width="1" height="1"/><rect x="34" y="21" width="1" height="1"/><rect x="34" y="26" width="1" height="1"/><rect x="34" y="29" width="1" height="1"/><rect x="34" y="31" width="1" height="1"/><rect x="34" y="34" width="1" height="1"/><rect x="34" y="36" width="1" height="1"/><rect x="35" y="0" width="1" height="1"/><rect x="35" y="6" width="1" height="1"/><rect x="35" y="8" width="1" height="1"/><rect x="35" y="10" width="1" height="1"/><rect x="35" y="12" width="1" height="1"/><rect x="35" y="17" width="1" height="1"/><rect x="35" y="18" width="1" height="1"/><rect x="35" y="19" width="1" height="1"/><rect x="35" y="20" width="1" height="1"/><rect x="35" y="22" width="1" height="1"/><rect x="35" y="25" width="1" height="1"/><rect x="35" y="26" width="1" height="1"/><rect x="35" y="28" width="1" height="1"/><rect x="35" y="29" width="1" height="1"/><rect x="35" y="30" width="1" height="1"/><rect x="35" y="31" width="1" height="1"/><rect x="35" y="32" width="1" height="1"/><rect x="35" y="33" width="1" height="1"/><rect x="35" y="36" width="1" height="1"/><rect x="36" y="0" width="1" height="1"/><rect x="36" y="1" width="1" height="1"/><rect x="36" y="2" width="1" height="1"/><rect x="36" y="3" width="1" height="1"/><rect x="36" y="4" width="1" height="1"/><rect x="36" y="5" width="1" height="1"/><rect x="36" y="6" width="1" height="1"/><rect x="36" y="10" width="1" height="1"/><rect x="36" y="12" width="1" height="1"/><rect x="36" y="13" width="1" height="1"/><rect x="36" y="14" width="1" height="1"/><rect x="36" y="18" width="1" height="1"/><rect x="36" y="19" width="1" height="1"/><rect x="36" y="20" width="1" height="1"/><rect x="36" y="23" width="1" height="1"/><rect x="36" y="25" width="1" height="1"/><rect x="36" y="28" width="1" height="1"/><rect x="36" y="30" width="1" height="1"/><rect x="36" y="32" width="1" height="1"/><rect x="36" y="33" width="1" height="1"/><rect x="36" y="34" width="1" height="1"/><rect x="36" y="36" width="1" height="1"/></g><rect x="14" y="14" width="9" height="9" fill="#fff"/></svg><svg style="position:absolute;left:683.5px;top:48.5px" width="14" height="14" viewBox="0 0 14 14"><rect x="0.5" y="0.5" width="13" height="13" rx="2" fill="#4dba6e"/><path d="M3.5 13 L3.5 6 Q3.5 2.8 7 2.8 Q10.5 2.8 10.5 6 L10.5 13 Z" fill="#7d5f4a"/><ellipse cx="7" cy="6.8" rx="2.2" ry="2.7" fill="#f3dfd5"/><path d="M4.5 13 L5.5 10.5 L7 11.8 L8.5 10.5 L9.5 13 Z" fill="#c0282a"/><rect x="4.5" y="1.8" width="5" height="1.2" fill="#f3a733"/></svg>
<div class="frame"></div>
</body></html>
